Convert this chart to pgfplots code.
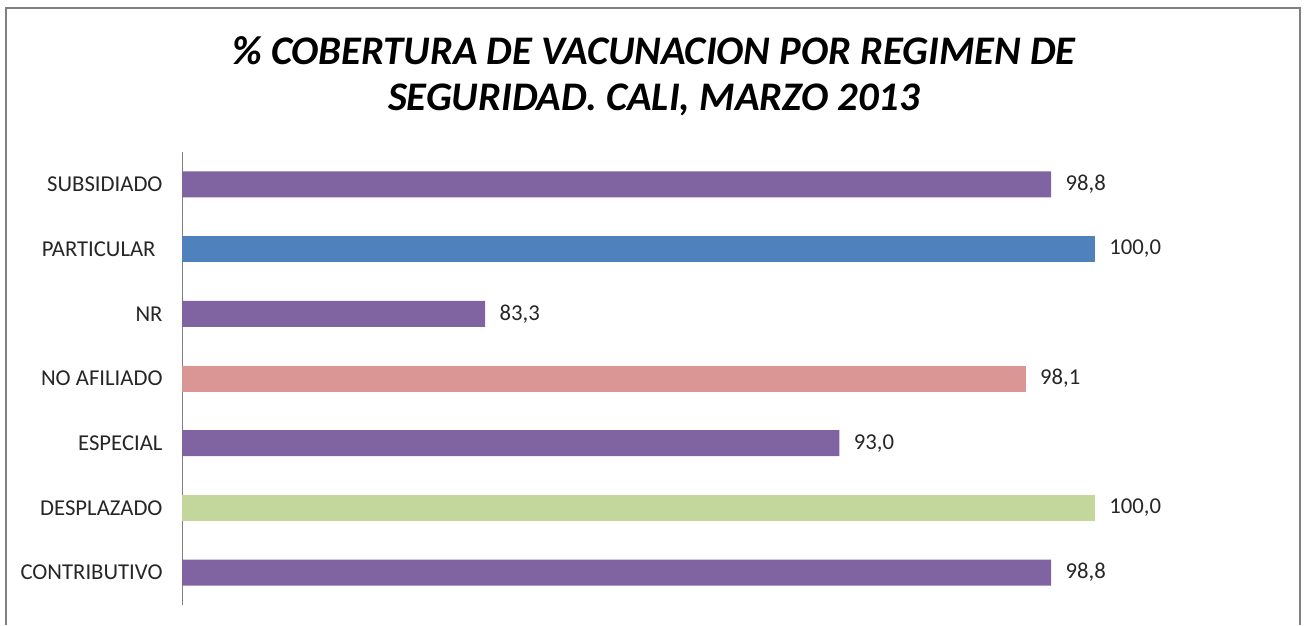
\documentclass[border=0pt]{standalone}
\usepackage{pgfplots}
\pgfplotsset{compat=1.18}
\usepackage{fontspec}
\setmainfont{Carlito}
\definecolor{cpurple}{HTML}{8064A2}
\definecolor{cblue}{HTML}{4F81BD}
\definecolor{cpink}{HTML}{D99694}
\definecolor{cgreen}{HTML}{C3D69B}
\begin{document}
\begin{tikzpicture}[x=1pt,y=1pt]
\useasboundingbox (0,0) rectangle (1307,625);
\draw[color=black!50, line width=2pt] (6,0) -- (6,617) -- (1300,617) -- (1300,0);
\node[font=\fontsize{40.6}{46}\selectfont\bfseries\itshape, align=center] at (654,549) {\% COBERTURA DE VACUNACION POR REGIMEN DE\\SEGURIDAD. CALI, MARZO 2013};
\begin{axis}[at={(182pt,20pt)}, anchor=south west, scale only axis,
  width=1059pt, height=453pt,
  xmin=75, xmax=104, ymin=-0.5, ymax=6.5,
  xbar, bar width=26pt, bar shift=0pt,
  hide x axis, axis y line*=left,
  y axis line style={black!50, line width=0.8pt},
  ytick={0,...,6}, ytick style={draw=none},
  yticklabels={CONTRIBUTIVO,DESPLAZADO,ESPECIAL,NO AFILIADO,NR,{PARTICULAR\kern7pt},SUBSIDIADO},
  yticklabel style={font=\fontsize{22.7}{26}\selectfont, inner sep=0pt, xshift=-15pt, text=black!85},
  /pgf/number format/assume math mode=true,
  nodes near coords,
  nodes near coords style={font=\fontsize{22.7}{26}\selectfont, anchor=west, xshift=11pt, text=black!85,
    /pgf/number format/.cd, fixed, fixed zerofill, precision=1, use comma},
]
\addplot[fill=cpurple, draw=none] coordinates {(98.8,6) (83.3,4) (93.0,2) (98.8,0)};
\addplot[fill=cblue, draw=none] coordinates {(100.0,5)};
\addplot[fill=cpink, draw=none] coordinates {(98.1,3)};
\addplot[fill=cgreen, draw=none] coordinates {(100.0,1)};
\end{axis}
\end{tikzpicture}
\end{document}
